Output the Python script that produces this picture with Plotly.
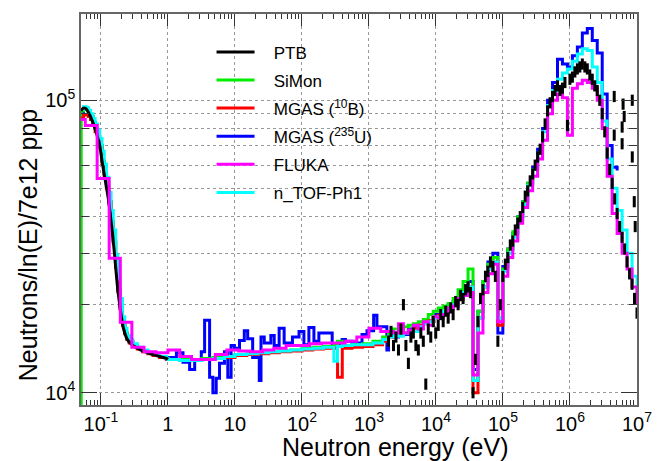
import plotly.graph_objects as go

# ---------------- data ----------------
# thermal region grid (eV)
E_LO = [0.0507, 0.055, 0.06, 0.065, 0.07, 0.076, 0.082, 0.089, 0.096, 0.104,
        0.112, 0.121, 0.131, 0.142, 0.153, 0.166, 0.179, 0.194, 0.21, 0.227,
        0.245, 0.265, 0.3, 0.35, 0.42, 0.5, 0.6, 0.75, 0.95]
PTB_LO = [9.2e4, 9.4e4, 9.35e4, 9.1e4, 8.8e4, 8.4e4, 8.0e4, 7.5e4, 7.0e4, 6.2e4,
          5.6e4, 5.05e4, 4.5e4, 3.85e4, 3.3e4, 2.7e4, 2.25e4, 1.95e4, 1.72e4, 1.6e4,
          1.53e4, 1.49e4, 1.45e4, 1.42e4, 1.39e4, 1.37e4, 1.35e4, 1.33e4, 1.31e4]
PTB_LO_END_E = [1.0]
PTB_LO_END_V = [1.3e4]
NTOF_LO = [9.3e4, 9.5e4, 9.45e4, 9.25e4, 9.0e4, 8.65e4, 8.3e4, 7.9e4, 7.4e4, 6.7e4,
           6.05e4, 5.45e4, 4.85e4, 4.2e4, 3.6e4, 2.95e4, 2.45e4, 2.1e4, 1.82e4, 1.66e4,
           1.57e4, 1.52e4, 1.47e4, 1.43e4, 1.4e4, 1.37e4, 1.35e4, 1.33e4, 1.31e4]
MGASB_LO = [8.7e4, 8.9e4, 8.9e4, 8.8e4, 8.6e4, 8.2e4, 7.8e4, 7.4e4, 6.9e4, 6.1e4,
            5.5e4, 5.0e4, 4.45e4, 3.8e4, 3.25e4, 2.68e4, 2.22e4, 1.93e4, 1.7e4, 1.59e4,
            1.52e4, 1.48e4, 1.44e4, 1.41e4, 1.38e4, 1.36e4, 1.34e4, 1.32e4, 1.3e4]
MGASU_LO = [9.1e4, 9.3e4, 9.3e4, 9.1e4, 8.8e4, 8.4e4, 8.0e4, 7.5e4, 7.0e4, 6.2e4,
            5.6e4, 5.05e4, 4.5e4, 3.85e4, 3.3e4, 2.7e4, 2.25e4, 1.95e4, 1.72e4, 1.6e4,
            1.53e4, 1.49e4, 1.45e4, 1.42e4, 1.39e4, 1.37e4, 1.35e4, 1.33e4]
SIMON_LO_E = [0.0505, 0.0509, 0.055, 0.06, 0.065, 0.07, 0.076, 0.082, 0.089, 0.096, 0.104,
              0.112, 0.121, 0.131, 0.142, 0.153, 0.166, 0.179, 0.194, 0.21, 0.227,
              0.245, 0.265, 0.3, 0.35, 0.42, 0.5, 0.6, 0.75, 0.95]
SIMON_LO = [5.0e3, 9.2e4, 9.35e4, 9.3e4, 9.1e4, 8.8e4, 8.4e4, 8.0e4, 7.5e4, 7.0e4, 6.2e4,
            5.6e4, 5.05e4, 4.5e4, 3.85e4, 3.3e4, 2.7e4, 2.25e4, 1.95e4, 1.72e4, 1.6e4,
            1.53e4, 1.49e4, 1.45e4, 1.42e4, 1.39e4, 1.37e4, 1.35e4, 1.33e4, 1.31e4]

# epithermal plateau grid (eV)
E_MID = [1.0, 1.5, 2.2, 3.2, 4.7, 7.0, 10, 15, 22, 32, 46, 68, 100, 145, 210,
         300, 340, 400, 560, 800, 1150, 1600]
NTOF_MID = [1.3e4, 1.29e4, 1.29e4, 1.3e4, 1.31e4, 1.33e4, 1.35e4, 1.36e4, 1.37e4, 1.38e4,
            1.39e4, 1.4e4, 1.41e4, 1.42e4, 1.43e4, 1.28e4, 1.44e4, 1.45e4, 1.46e4, 1.46e4,
            1.48e4, 1.52e4]
MGASB_MID = [1.3e4, 1.29e4, 1.29e4, 1.3e4, 1.31e4, 1.32e4, 1.34e4, 1.35e4, 1.36e4, 1.37e4,
             1.38e4, 1.39e4, 1.4e4, 1.41e4, 1.42e4, 1.42e4, 1.13e4, 1.42e4, 1.43e4, 1.44e4,
             1.46e4, 1.5e4]
SIMON_MID = [1.3e4, 1.3e4, 1.3e4, 1.31e4, 1.32e4, 1.33e4, 1.35e4, 1.36e4, 1.37e4, 1.38e4,
             1.39e4, 1.4e4, 1.42e4, 1.43e4, 1.44e4, 1.45e4, 1.5e4, 1.45e4, 1.46e4, 1.47e4,
             1.5e4, 1.55e4]
MGASU_MID_E = [0.95, 1.34, 1.68, 2.11, 2.51, 3.15, 3.53, 4.19, 4.69, 5.26,
               5.89, 6.98, 7.83, 8.77, 9.83, 11.7, 13.8, 15.5, 18.4, 23.1,
               24.5, 27.4, 34.4, 38.6, 45.7, 54.3, 72.2, 90.6, 107, 127,
               151, 179, 283, 398, 446, 560, 788, 935, 1175, 1316, 1852]
MGASU_MID = [1.32e4, 1.37e4, 1.27e4, 1.2e4, 1.3e4, 1.38e4, 1.77e4, 1.13e4, 1.0e4, 1.12e4,
             1.26e4, 1.38e4, 1.13e4, 1.45e4, 1.42e4, 1.51e4, 1.63e4, 1.53e4, 1.32e4, 1.1e4,
             1.55e4, 1.48e4, 1.57e4, 1.45e4, 1.66e4, 1.48e4, 1.55e4, 1.62e4, 1.46e4, 1.67e4,
             1.5e4, 1.6e4, 1.45e4, 1.52e4, 1.5e4, 1.48e4, 1.58e4, 1.63e4, 1.84e4, 1.68e4, 1.4e4]

# FLUKA coarse bins up to ~2 keV (eV)
FLUKA_LO_E = [0.0507, 0.0585, 0.088, 0.133, 0.195, 0.29, 0.44, 0.66, 1.0, 1.5,
              2.25, 3.4, 5.1, 7.6, 11.4, 17, 26, 38, 58, 87,
              130, 195, 290, 440, 660, 1000, 1500]
FLUKA_LO = [8.6e4, 8.2e4, 5.4e4, 2.88e4, 1.74e4, 1.43e4, 1.38e4, 1.37e4, 1.4e4, 1.33e4,
            1.3e4, 1.3e4, 1.35e4, 1.4e4, 1.39e4, 1.38e4, 1.4e4, 1.42e4, 1.45e4, 1.45e4,
            1.47e4, 1.48e4, 1.48e4, 1.5e4, 1.55e4, 1.66e4, 1.62e4]

# fast region grid (eV)
E_HI = [1960, 2324, 2757, 3270, 3880, 4602, 5459, 6476, 7682, 9112,
        1.081e4, 1.282e4, 1.521e4, 1.804e4, 2.14e4, 2.539e4, 3.012e4, 3.573e4, 4.238e4, 5.027e4,
        5.963e4, 7.073e4, 8.39e4, 9.952e4, 1.181e5, 1.4e5, 1.661e5, 1.97e5, 2.337e5, 2.772e5,
        3.288e5, 3.9e5, 4.627e5, 5.488e5, 6.51e5, 7.722e5, 9.16e5, 1.087e6, 1.289e6, 1.529e6,
        1.813e6, 2.151e6, 2.552e6, 3.027e6, 3.59e6, 4.259e6, 5.052e6, 5.993e6, 7.109e6, 8.432e6,
        1.0e7]
NTOF_HI = [1.55e4, 1.58e4, 1.56e4, 1.6e4, 1.63e4, 1.62e4, 1.68e4, 1.72e4, 1.75e4, 1.8e4,
           1.82e4, 1.9e4, 1.95e4, 2.0e4, 2.1e4, 2.2e4, 2.3e4, 1.1e4, 1.8e4, 2.3e4,
           2.65e4, 2.8e4, 1.8e4, 2.6e4, 3.0e4, 3.4e4, 3.9e4, 4.4e4, 5.1e4, 5.8e4,
           6.6e4, 7.8e4, 9.6e4, 1.08e5, 1.18e5, 1.24e5, 1.28e5, 1.36e5, 1.44e5, 1.5e5,
           1.48e5, 1.3e5, 1.15e5, 8.5e4, 6.3e4, 5.0e4, 4.2e4, 3.6e4, 3.0e4, 2.5e4,
           2.1e4]
MGASU_HI = [1.6e4, 1.55e4, 1.62e4, 1.58e4, 1.65e4, 1.7e4, 1.66e4, 1.73e4, 1.76e4, 1.85e4,
            1.83e4, 1.88e4, 2.0e4, 2.05e4, 2.1e4, 2.25e4, 2.4e4, 1.2e4, 1.9e4, 2.4e4,
            2.8e4, 3.0e4, 1.6e4, 2.7e4, 3.1e4, 3.5e4, 4.0e4, 4.5e4, 5.2e4, 5.9e4,
            6.8e4, 8.0e4, 1.0e5, 1.15e5, 1.38e5, 1.33e5, 1.3e5, 1.42e5, 1.52e5, 1.7e5,
            1.76e5, 1.6e5, 1.45e5, 1.05e5, 7.0e4, 5.9e4, 5.75e4]
FLUKA_HI = [1.62e4, 1.6e4, 1.72e4, 1.6e4, 1.64e4, 1.7e4, 1.65e4, 1.75e4, 1.7e4, 1.82e4,
            1.8e4, 1.85e4, 1.95e4, 1.98e4, 2.1e4, 2.15e4, 2.2e4, 1.15e4, 1.6e4, 2.2e4,
            2.55e4, 2.75e4, 1.75e4, 2.5e4, 2.9e4, 3.3e4, 3.8e4, 4.3e4, 4.9e4, 5.5e4,
            6.3e4, 7.3e4, 9.0e4, 1.0e5, 1.05e5, 1.02e5, 7.6e4, 1.1e5, 1.14e5, 1.17e5,
            1.15e5, 1.1e5, 1.0e5, 8.0e4, 5.5e4, 4.1e4, 3.5e4, 3.0e4, 2.65e4, 2.3e4,
            2.0e4]
SIMON_HI = [1.62e4, 1.65e4, 1.63e4, 1.68e4, 1.7e4, 1.72e4, 1.75e4, 1.78e4, 1.85e4, 1.9e4,
            1.95e4, 1.98e4, 2.02e4, 2.1e4, 2.25e4, 2.4e4, 2.65e4, 1.1e4, 1.9e4, 2.4e4,
            2.75e4, 2.9e4, 1.8e4, 2.65e4, 3.1e4, 3.55e4, 4.0e4, 4.5e4, 5.2e4, 5.8e4,
            6.6e4]
MGASB_HI = [1.55e4, 1.58e4, 1.6e4, 1.6e4, 1.62e4, 1.66e4, 1.7e4, 1.72e4, 1.76e4, 1.8e4,
            1.84e4, 1.88e4, 1.94e4, 2.0e4, 2.08e4, 2.2e4, 2.3e4, 1.0e4, 1.8e4, 2.3e4,
            2.65e4, 2.8e4, 1.7e4, 2.6e4]

# PTB fast-region points
PTB_HI_E = [1960, 2135, 2324, 2531, 2757, 3003, 3270, 3561, 3880, 4226,
            4602, 5012, 5459, 5946, 6476, 7053, 7682, 8367, 9112, 9924,
            1.081e4, 1.177e4, 1.282e4, 1.396e4, 1.521e4, 1.657e4, 1.804e4, 1.965e4, 2.14e4, 2.331e4,
            2.539e4, 2.765e4, 3.012e4, 3.28e4, 3.573e4, 3.891e4, 4.238e4, 4.616e4, 5.027e4, 5.475e4,
            5.963e4, 6.494e4, 7.073e4, 7.703e4, 8.39e4, 9.138e4, 9.952e4, 1.084e5, 1.181e5, 1.286e5,
            1.4e5, 1.525e5, 1.661e5, 1.809e5, 1.97e5, 2.146e5, 2.337e5, 2.545e5, 2.772e5, 3.019e5,
            3.288e5, 3.581e5, 3.9e5, 4.248e5, 4.627e5, 5.039e5, 5.488e5, 5.977e5, 6.51e5, 7.09e5,
            7.722e5, 8.41e5, 9.16e5, 9.976e5, 1.087e6, 1.183e6, 1.289e6, 1.404e6, 1.529e6, 1.665e6,
            1.813e6, 1.975e6, 2.151e6, 2.343e6, 2.552e6, 2.779e6, 3.027e6, 3.297e6, 3.59e6, 3.91e6,
            4.259e6, 4.638e6, 5.052e6, 5.502e6, 5.993e6, 6.527e6, 7.109e6, 7.742e6, 8.432e6, 9.184e6,
            1.0e7]
PTB_HI = [1.5e4, 1.62e4, 1.45e4, 1.55e4, 1.4e4, 1.65e4, 2.0e4, 1.45e4, 1.26e4, 1.55e4,
          1.6e4, 1.45e4, 1.4e4, 1.6e4, 1.5e4, 1.07e4, 1.65e4, 1.55e4, 1.75e4, 1.6e4,
          1.7e4, 1.85e4, 1.75e4, 1.9e4, 1.8e4, 1.95e4, 1.85e4, 2.05e4, 2.0e4, 2.15e4,
          2.1e4, 2.25e4, 2.3e4, 2.2e4, 1.0e4, 1.3e4, 1.75e4, 2.1e4, 2.25e4, 2.5e4,
          2.6e4, 2.8e4, 2.7e4, 2.5e4, 1.5e4, 2.0e4, 2.5e4, 2.75e4, 2.9e4, 3.2e4,
          3.3e4, 3.6e4, 3.8e4, 4.0e4, 4.3e4, 4.7e4, 4.9e4, 5.3e4, 5.6e4, 6.0e4,
          6.4e4, 6.8e4, 7.5e4, 8.3e4, 9.2e4, 9.8e4, 1.03e5, 1.08e5, 1.12e5, 1.08e5,
          1.1e5, 1.15e5, 8.2e4, 1.18e5, 1.2e5, 1.25e5, 1.28e5, 1.3e5, 1.33e5, 1.3e5,
          1.28e5, 1.22e5, 1.18e5, 1.12e5, 1.08e5, 1.0e5, 9.0e4, 7.8e4, 6.6e4, 5.8e4,
          5.2e4, 4.6e4, 4.1e4, 3.7e4, 3.4e4, 3.1e4, 2.8e4, 2.55e4, 2.35e4, 2.1e4,
          1.87e4]
PTB_OUT_E = [4.57e6, 4.57e6, 6.0e6, 6.2e6, 6.44e6, 6.0e6, 8.5e6, 8.5e6, 9.1e6, 9.4e6]
PTB_OUT = [1.03e5, 7.6e4, 8.1e4, 9.7e4, 8.8e4, 7.1e4, 1.0e5, 6.4e4, 4.5e4, 3.7e4]

# axis ticks
X_TICKS = [0.1, 1, 10, 100, 1e3, 1e4, 1e5, 1e6, 1e7]
X_TICKTEXT = ["10<sup>-1</sup>", "1", "10", "10<sup>2</sup>", "10<sup>3</sup>",
              "10<sup>4</sup>", "10<sup>5</sup>", "10<sup>6</sup>", "10<sup>7</sup>"]
Y_TICKS = [1e4, 1e5]
Y_TICKTEXT = ["10<sup>4</sup>", "10<sup>5</sup>"]

PAD = "\u00a0\u00a0\u00a0"
NAMES = ["PTB", "SiMon", "MGAS (<sup>10</sup>B)", "MGAS (<sup>235</sup>U)", "FLUKA", "n_TOF-Ph1"]
COLORS = ["#000000", "#00ee00", "#ff0000", "#0000ff", "#ff00ff", "#00ffff"]

LW = 3

fig = go.Figure()
# MGAS 235U (blue)
fig.add_trace(go.Scatter(x=E_LO[:-1] + MGASU_MID_E + E_HI[:len(MGASU_HI)],
                         y=MGASU_LO + MGASU_MID + MGASU_HI,
                         mode="lines", line=dict(color=COLORS[3], width=LW, shape="hv"),
                         name=PAD + NAMES[3], legendrank=4, legendgroup="g4"))
# SiMon (green)
fig.add_trace(go.Scatter(x=SIMON_LO_E + E_MID + E_HI[:len(SIMON_HI)],
                         y=SIMON_LO + SIMON_MID + SIMON_HI,
                         mode="lines", line=dict(color=COLORS[1], width=LW, shape="hv"),
                         name=PAD + NAMES[1], legendrank=2, legendgroup="g2"))
# MGAS 10B (red)
fig.add_trace(go.Scatter(x=E_LO + E_MID + E_HI[:len(MGASB_HI)],
                         y=MGASB_LO + MGASB_MID + MGASB_HI,
                         mode="lines", line=dict(color=COLORS[2], width=LW, shape="hv"),
                         name=PAD + NAMES[2], legendrank=3, legendgroup="g3"))
# n_TOF-Ph1 (cyan)
fig.add_trace(go.Scatter(x=E_LO + E_MID + E_HI,
                         y=NTOF_LO + NTOF_MID + NTOF_HI,
                         mode="lines", line=dict(color=COLORS[5], width=LW, shape="hv"),
                         name=PAD + NAMES[5], legendrank=6, legendgroup="g6"))
# PTB thermal curve (black)
fig.add_trace(go.Scatter(x=E_LO + PTB_LO_END_E, y=PTB_LO + PTB_LO_END_V,
                         mode="lines", line=dict(color=COLORS[0], width=LW, shape="spline"),
                         name=PAD + NAMES[0], legendrank=1, legendgroup="g1"))
# FLUKA (magenta)
fig.add_trace(go.Scatter(x=FLUKA_LO_E + E_HI, y=FLUKA_LO + FLUKA_HI,
                         mode="lines", line=dict(color=COLORS[4], width=LW, shape="hv"),
                         name=PAD + NAMES[4], legendrank=5, legendgroup="g5"))
# PTB fast region (black dashes)
fig.add_trace(go.Scatter(x=PTB_HI_E + PTB_OUT_E, y=PTB_HI + PTB_OUT,
                         mode="markers",
                         marker=dict(symbol="line-ns", size=8, color=COLORS[0],
                                     line=dict(color=COLORS[0], width=3)),
                         showlegend=False, name="PTB", legendgroup="g1"))

X_MINOR = [m * 10.0 ** k for k in range(-2, 7) for m in range(2, 10)]
Y_MINOR = [m * 1e4 for m in range(2, 10)]

axis_common = dict(showline=True, linecolor="#666666", linewidth=1.5, mirror="allticks",
                   ticks="inside", tickcolor="#333333", tickwidth=1,
                   showgrid=True, gridcolor="#999999", griddash="dot", gridwidth=1,
                   zeroline=False, tickfont=dict(size=20, color="black"))

fig.update_xaxes(type="log", range=[-1.2967, 7.0], tickmode="array",
                 tickvals=X_TICKS, ticktext=X_TICKTEXT, ticklen=12,
                 minor=dict(tickmode="array", tickvals=X_MINOR, ticks="inside",
                            ticklen=5, tickcolor="#333333", showgrid=False),
                 **axis_common)
fig.update_yaxes(type="log", range=[3.958, 5.295], tickmode="array",
                 tickvals=Y_TICKS, ticktext=Y_TICKTEXT, ticklen=16,
                 minor=dict(tickmode="array", tickvals=Y_MINOR, ticks="inside",
                            ticklen=8, tickcolor="#333333", showgrid=True,
                            gridcolor="#999999", griddash="dot", gridwidth=1),
                 **axis_common)

fig.update_layout(
    width=664, height=461,
    margin=dict(l=81, r=24, t=13, b=56),
    paper_bgcolor="white", plot_bgcolor="white",
    font=dict(family="Liberation Sans, Arial, sans-serif", color="black"),
    legend=dict(x=0.2348, y=0.948, xanchor="left", yanchor="top",
                bgcolor="rgba(0,0,0,0)", borderwidth=0, traceorder="grouped",
                font=dict(size=17), itemwidth=38, tracegroupgap=3),
    shapes=[dict(type="rect", xref="paper", yref="paper",
                 x0=0.2276, x1=0.6156, y0=0.5047, y1=0.938,
                 fillcolor="white", line=dict(width=0), layer="between")],
    annotations=[
        dict(text="Neutrons/ln(E)/7e12 ppp", textangle=-90, xref="paper", yref="paper",
             x=-0.094, y=0.408, xanchor="center", yanchor="middle", showarrow=False,
             font=dict(size=25)),
        dict(text="Neutron energy (eV)", xref="paper", yref="paper",
             x=0.566, y=-0.107, xanchor="center", yanchor="middle", showarrow=False,
             font=dict(size=25)),
    ],
)

fig.write_html("out.html")
